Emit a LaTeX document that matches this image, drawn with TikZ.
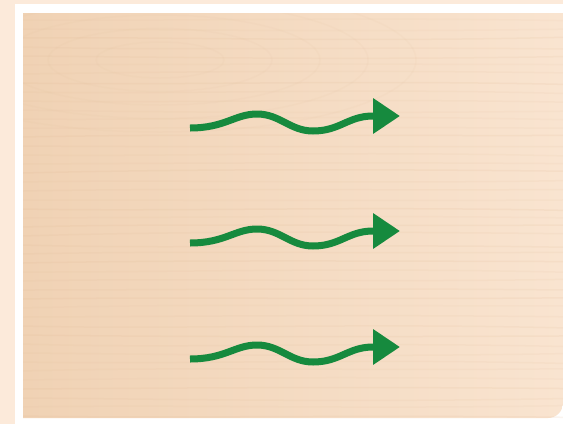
\documentclass[tikz,border=0pt]{standalone}
\usetikzlibrary{arrows.meta}
\definecolor{woodbase}{RGB}{240,210,180}
\definecolor{woodlight}{RGB}{249,228,208}
\definecolor{wooddark}{RGB}{220,180,142}
\definecolor{outercream}{RGB}{252,234,218}
\definecolor{flowgreen}{RGB}{22,138,62}
\tikzset{
  flow/.style={draw=flowgreen, line width=7pt, -{Triangle[length=27pt,width=34pt]}},
  grain/.style={draw=wooddark, line width=1.5pt, opacity=0.12},
}

\begin{document}
\begin{tikzpicture}[x=1pt, y=-1pt]
  \useasboundingbox (0,0) rectangle (563,424);
  % Background and frame
  \fill[outercream] (0,0) rectangle (563,424);
  \fill[white] (15,4) rectangle (563,424);
  % Wood panel
  \shade[left color=woodbase, right color=woodlight]
    (23,13) -- (563,13) -- (563,403) arc[start angle=0, end angle=90, radius=15]
    -- (23,418) -- cycle;
  % Grain
  \begin{scope}
    \clip (23,13) rectangle (563,418);
    \pgfmathsetseed{42}
    \foreach \y in {20,29,...,418} {
      \pgfmathsetmacro{\da}{rand*5}
      \pgfmathsetmacro{\db}{rand*5}
      \pgfmathsetmacro{\op}{0.06+0.08*rnd}
      \draw[grain, opacity=\op] (23,\y) .. controls (170,\y+\da) and (350,\y+\db) .. (563,\y+\da*0.5);
    }
    \foreach \r in {40,70,...,160}
      \draw[grain, opacity=0.06] (160,60) ellipse[x radius=\r*1.6, y radius=\r*0.45];
  \end{scope}
  % Flow arrows
  \foreach \i/\dy in {1/0, 2/115, 3/231} {
    \coordinate (start\i) at (190,128+\dy);
    \coordinate (tip\i) at (400,116+\dy);
    \draw[flow] (start\i) .. controls +(35,0) and +(-22,0) .. ++(67,-14)
      .. controls +(23,0) and +(-23,0) .. ++(56,17)
      .. controls +(27,0) and +(-25,0) .. ++(60,-15) -- (tip\i);
  }
\end{tikzpicture}
\end{document}
